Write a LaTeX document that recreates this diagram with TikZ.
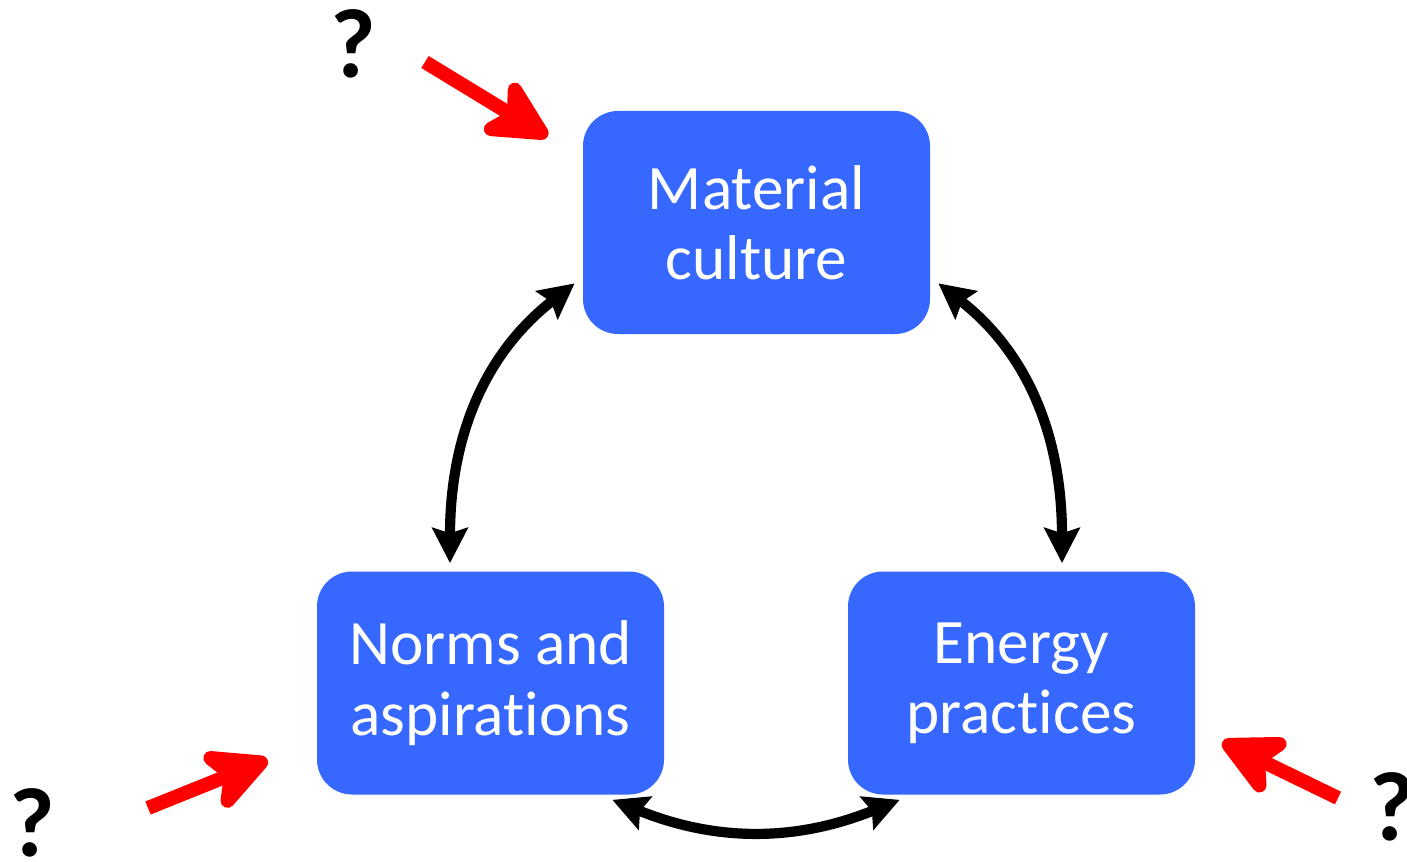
\documentclass[tikz,border=0pt]{standalone}
\usepackage{fontspec}
\setmainfont[Ligatures=NoCommon]{Carlito}
\usetikzlibrary{arrows.meta}

\definecolor{boxblue}{RGB}{54,104,255}
\tikzset{
    box/.style={fill=boxblue, rounded corners=0.7cm, minimum width=6.94cm,
        minimum height=4.46cm, inner sep=0pt, text=white, align=center,
        font=\fontsize{36}{40}\selectfont},
    link/.style={line width=5.8pt,
        {Stealth[length=20pt,width=20pt,inset=3pt]}-{Stealth[length=20pt,width=20pt,inset=3pt]}},
    push/.style={red, line width=8pt,
        -{Stealth[length=44pt,width=44pt,inset=12pt,round]}},
    query/.style={inner sep=0pt, font=\fontsize{56}{60}\selectfont\bfseries}
}

\begin{document}
\begin{tikzpicture}
    \useasboundingbox (0,0) rectangle (28.14,17.22);

    % the three boxes
    \node[box] (mat) at (15.13,12.77) {Material\\culture};
    \node[box] (norm) at (9.81,3.56) {Norms and\\aspirations};
    \node[box] (ener) at (20.43,3.56) {Energy\\practices};

    % two-way links
    \draw[link] ([xshift=-0.81cm,yshift=0.16cm]norm.north) to[out=90,in=218] ([xshift=-0.16cm,yshift=1.02cm]mat.south west);
    \draw[link] ([xshift=0.16cm,yshift=1.02cm]mat.south east) to[out=-38,in=90] ([xshift=0.81cm,yshift=0.16cm]ener.north);
    \draw[link] ([xshift=-1.04cm,yshift=-0.10cm]norm.south east) to[out=-22,in=202] ([xshift=1.04cm,yshift=-0.10cm]ener.south west);

    % outside influences
    \coordinate (matq) at (8.5,15.98);
    \coordinate (normq) at (2.96,1.06);
    \coordinate (enerq) at (26.76,1.26);
    \draw[push] (matq) -- ([xshift=-0.7cm,yshift=-0.52cm]mat.north west);
    \draw[push] (normq) -- ([xshift=-0.98cm,yshift=0.70cm]norm.south west);
    \draw[push] (enerq) -- ([xshift=0.54cm,yshift=1.06cm]ener.south east);

    \node[query] (q1) at (7.06,16.34) {?};
    \node[query] (q2) at (0.64,0.76) {?};
    \node[query] (q3) at (27.84,1.08) {?};
\end{tikzpicture}
\end{document}
